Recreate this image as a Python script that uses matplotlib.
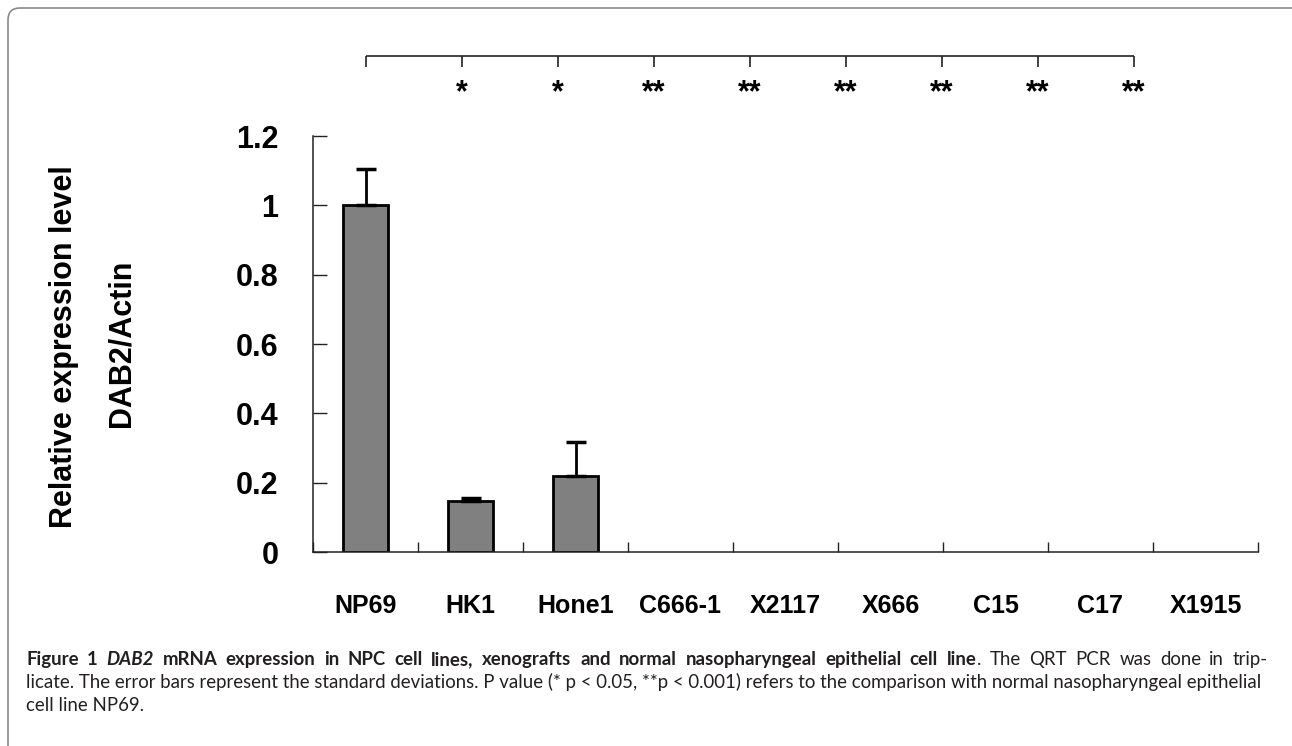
import numpy as np
import matplotlib
matplotlib.use("Agg")
import matplotlib.pyplot as plt
from matplotlib.patches import FancyBboxPatch

# data
cell_lines = ["NP69", "HK1", "Hone1", "C666-1", "X2117", "X666", "C15", "C17", "X1915"]
expression = [1.0, 0.147, 0.219, 0.0, 0.0, 0.0, 0.0, 0.0, 0.0]
std_dev = [0.105, 0.008, 0.098, 0.0, 0.0, 0.0, 0.0, 0.0, 0.0]
significance = ["", "*", "*", "**", "**", "**", "**", "**", "**"]
y_ticks = [0, 0.2, 0.4, 0.6, 0.8, 1.0, 1.2]
y_tick_labels = ["0", "0.2", "0.4", "0.6", "0.8", "1", "1.2"]

W, H = 1292, 746
fig = plt.figure(figsize=(W / 100, H / 100), dpi=100)
fig.patch.set_facecolor("white")

# rounded frame around the figure (pixel coords)
frame = FancyBboxPatch((8, -30), W + 10, H - 8 + 30,
                       boxstyle="round,pad=0,rounding_size=12",
                       transform=None, fill=False, edgecolor="#8a8a8a", lw=1.2)
fig.patches.append(frame)

label_font = "Liberation Sans"

# main bar chart
ax = fig.add_axes([313 / W, 1 - 552 / H, 945 / W, 416 / H])
x = np.arange(len(cell_lines))
lw = [2.0 if v > 0 else 0 for v in expression]
ax.bar(x, expression, width=0.42, color="#808080", edgecolor="black", linewidth=lw, zorder=2)

has_err = [i for i, s in enumerate(std_dev) if s > 0]
ax.errorbar(x[has_err], np.array(expression)[has_err],
            yerr=[np.zeros(len(has_err)), np.array(std_dev)[has_err]],
            fmt="none", ecolor="black", elinewidth=2.0, capsize=7.5, capthick=2.5, zorder=3)

ax.set_xlim(-0.5, len(cell_lines) - 0.5)
ax.set_ylim(0, 1.2)
ax.set_yticks(y_ticks)
ax.set_yticklabels(y_tick_labels, fontsize=22, fontweight="bold", family=label_font)
ax.tick_params(axis="y", direction="in", length=10, width=1, pad=25, color="#222222")

ax.set_xticks(x)
ax.set_xticklabels(cell_lines, fontsize=18, fontweight="bold", family=label_font)
ax.set_xticks(np.arange(len(cell_lines) + 1) - 0.5, minor=True)
ax.tick_params(axis="x", which="major", length=0, pad=30)
ax.tick_params(axis="x", which="minor", direction="in", length=7, width=1, color="#222222")

for side in ["top", "right"]:
    ax.spines[side].set_visible(False)
for side in ["left", "bottom"]:
    ax.spines[side].set_color("#222222")
    ax.spines[side].set_linewidth(1.1)

# y axis title, two lines
fig.text(64 / W, 1 - 347 / H, "Relative expression level", rotation=90,
         ha="center", va="center", fontsize=22, fontweight="bold", family=label_font)
fig.text(121 / W, 1 - 343 / H, "DAB2/Actin", rotation=90,
         ha="center", va="center", fontsize=22, fontweight="bold", family=label_font)

# significance bracket above the plot (drawn on its own axes, y in pixel rows)
bx = fig.add_axes([366 / W, 1 - 100 / H, 768 / W, 50 / H])
bx.set_xlim(0, len(cell_lines) - 1)
bx.set_ylim(100, 50)
bx.axis("off")
bx.hlines(56, 0, len(cell_lines) - 1, color="#222222", lw=1.2, clip_on=False)
bx.vlines(np.arange(len(cell_lines)), 56, 67, color="#222222", lw=1.2, clip_on=False)
for i, s in enumerate(significance):
    if s:
        bx.text(i, 101, s, ha="center", va="baseline", fontsize=22,
                fontweight="bold", family=label_font, clip_on=False)

# caption
cap_font = "Lato"
cap_color = "#231f20"
line1_words = (
    [("Figure", "b"), ("1", "b"), ("DAB2", "bi")]
    + [(w, "b") for w in "mRNA expression in NPC cell lines, xenografts and normal "
       "nasopharyngeal epithelial cell line".split()]
    + [(".", "r+")]
    + [(w, "r") for w in "The QRT PCR was done in trip-".split()]
)
line2 = ("licate. The error bars represent the standard deviations. P value (* p < 0.05, "
         "**p < 0.001) refers to the comparison with normal nasopharyngeal epithelial")
line3 = "cell line NP69."
left_px, right_px = 26, 1268
base1 = 665
line_gap = 23

styles = {"b": dict(fontweight="bold"),
          "bi": dict(fontweight="bold", fontstyle="italic"),
          "r": dict(), "r+": dict()}

renderer = fig.canvas.get_renderer()
probe = fig.text(0, 0, line2, fontsize=10, family=cap_font)
w10 = probe.get_window_extent(renderer).width
probe.remove()
cap_size = 10 * (right_px - left_px) / w10


def text_width(s, **kw):
    t = fig.text(0, 0, s, fontsize=cap_size, family=cap_font, **kw)
    w = t.get_window_extent(renderer).width
    t.remove()
    return w


# justify line 1 across the full caption width
widths = [text_width(wd, **styles[st]) for wd, st in line1_words]
n_gaps = sum(1 for wd, st in line1_words[1:] if st != "r+")
gap = (right_px - left_px - sum(widths)) / n_gaps
xpos = left_px
for k, ((wd, st), w) in enumerate(zip(line1_words, widths)):
    if k > 0 and st != "r+":
        xpos += gap
    fig.text(xpos / W, 1 - base1 / H, wd, fontsize=cap_size, family=cap_font,
             color=cap_color, va="baseline", **styles[st])
    xpos += w

fig.text(left_px / W, 1 - (base1 + line_gap) / H, line2, fontsize=cap_size, family=cap_font,
         color=cap_color, va="baseline")
fig.text(left_px / W, 1 - (base1 + 2 * line_gap) / H, line3, fontsize=cap_size, family=cap_font,
         color=cap_color, va="baseline")

fig.savefig("out.png", dpi=100, facecolor="white")
